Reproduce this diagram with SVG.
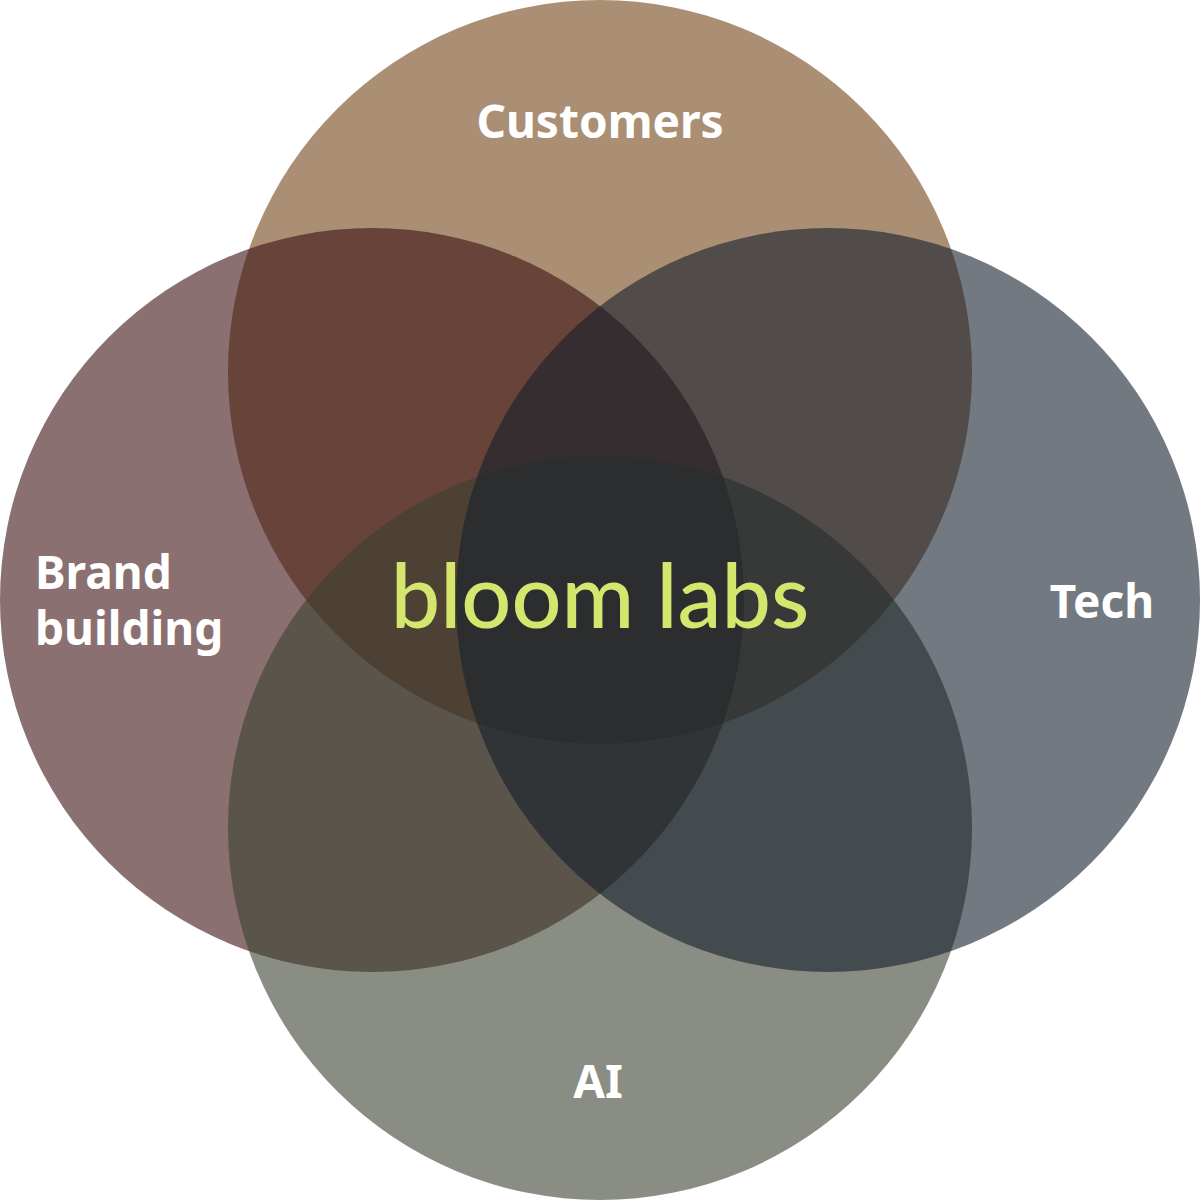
<svg xmlns="http://www.w3.org/2000/svg" width="1200" height="1200" viewBox="0 0 1200 1200">
<style>
.c{fill-opacity:0.6}
.l{font-family:"Noto Sans","Open Sans",sans-serif;font-weight:bold;font-size:46px;fill:#fff}
</style>
<rect width="1200" height="1200" fill="#fff"/>
<g id="customers"><circle class="c" cx="600" cy="372" r="372" fill="#714419"/></g>
<g id="brand"><circle class="c" cx="372" cy="600" r="372" fill="#3C1111"/></g>
<g id="ai"><circle class="c" cx="600" cy="828" r="372" fill="#3C4130"/></g>
<g id="tech"><circle class="c" cx="828" cy="600" r="372" fill="#16202B"/></g>
<g id="connectors"/>
<text class="l" x="600" y="138" text-anchor="middle">Customers</text>
<text class="l" x="35" y="589">Brand</text>
<text class="l" x="35" y="645">building</text>
<text class="l" x="1102" y="618" text-anchor="middle">Tech</text>
<text class="l" x="598" y="1098" text-anchor="middle">AI</text>
<text x="600" y="628" text-anchor="middle" font-family="Lato,'Noto Sans',sans-serif" font-weight="500" font-size="88" fill="#D4E66E">bloom labs</text>
</svg>
